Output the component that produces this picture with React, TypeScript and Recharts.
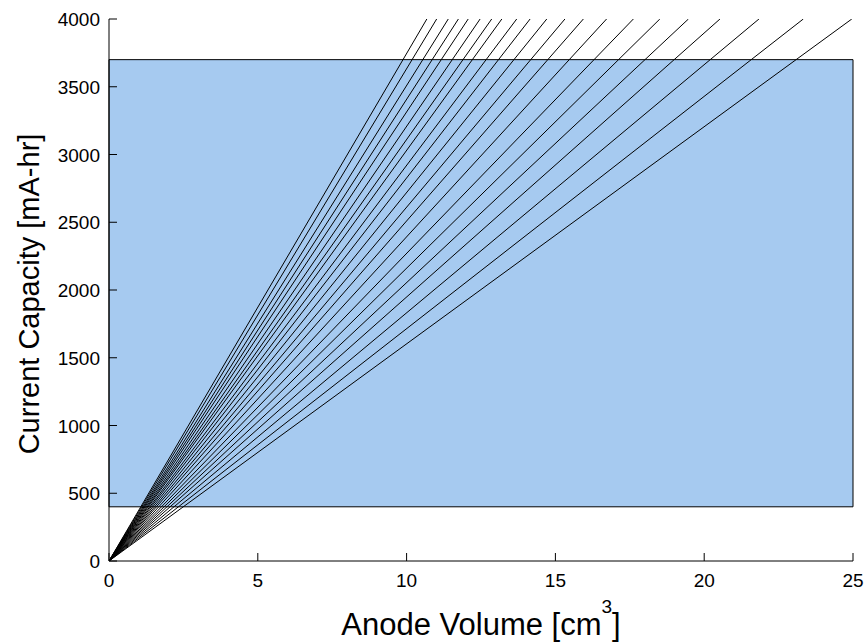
import React from 'react';
import { LineChart, Line, XAxis, YAxis, ReferenceArea } from 'recharts';

// Anode volume (cm^3) at which each capacity line reaches 4000 mA-hr
const lineEndVolumes = [10.68, 11.01, 11.4, 11.74, 12.07, 12.47, 12.86, 13.2, 13.7, 14.15, 14.71, 15.32, 15.94, 16.72, 17.62, 18.51, 19.47, 20.53, 21.84, 23.33, 24.96];
const capacityTop = 4000;
const xTicks = [0, 5, 10, 15, 20, 25];
const yTicks = [0, 500, 1000, 1500, 2000, 2500, 3000, 3500, 4000];
const bandX = [0, 25];
const bandY = [400, 3700];

const FONT = '"Liberation Sans", Arial, sans-serif';
const TICK_FONT = 19;
const TICK_LEN = 8;

const XTick = (props: any) => {
  const { x, y, payload } = props;
  return (
    <g>
      <line x1={x} x2={x} y1={y} y2={y - TICK_LEN} stroke="#000" strokeWidth={1} />
      <text x={x} y={y + 26} textAnchor="middle" fontFamily={FONT} fontSize={TICK_FONT} fill="#000">
        {payload.value}
      </text>
    </g>
  );
};

const YTick = (props: any) => {
  const { x, y, payload } = props;
  return (
    <g>
      <line x1={x} x2={x + TICK_LEN} y1={y} y2={y} stroke="#000" strokeWidth={1} />
      <text x={x - 9} y={y + 7} textAnchor="end" fontFamily={FONT} fontSize={TICK_FONT} fill="#000">
        {payload.value}
      </text>
    </g>
  );
};

const renderXLabel = (props: any) => {
  const vb = props.viewBox || {};
  const cx = vb.x + vb.width / 2;
  const y = vb.y + 74;
  return (
    <text x={cx} y={y} textAnchor="middle" fontFamily={FONT} fontSize={31} fill="#000">
      <tspan>Anode Volume [cm</tspan>
      <tspan dy={-22} fontSize={19}>3</tspan>
      <tspan dy={22}>]</tspan>
    </text>
  );
};

const renderYLabel = () => {
  const cy = 294;
  const x = 29;
  return (
    <text x={x} y={cy} transform={`rotate(-90, ${x}, ${cy})`} textAnchor="middle" dominantBaseline="central" fontFamily={FONT} fontSize={29} fill="#000">
      Current Capacity [mA-hr]
    </text>
  );
};

export default function App() {
  return (
    <div style={{ position: 'absolute', left: 0, top: 0, width: 867, height: 642 }}>
      <LineChart width={867} height={642} margin={{ top: 19, right: 14, bottom: 0, left: 0 }}>
        <XAxis
          type="number"
          dataKey="v"
          domain={[0, 25]}
          ticks={xTicks}
          height={81}
          axisLine={{ stroke: '#000' }}
          tickLine={false}
          tickSize={0}
          tickMargin={0}
          tick={<XTick />}
          label={{ content: renderXLabel }}
          allowDataOverflow
        />
        <YAxis
          type="number"
          dataKey="c"
          domain={[0, 4000]}
          ticks={yTicks}
          width={109}
          axisLine={{ stroke: '#000' }}
          tickLine={false}
          tickSize={0}
          tickMargin={0}
          tick={<YTick />}
          label={{ content: renderYLabel }}
          allowDataOverflow
        />
        <ReferenceArea
          x1={bandX[0]}
          x2={bandX[1]}
          y1={bandY[0]}
          y2={bandY[1]}
          fill="#a6caf0"
          fillOpacity={1}
          stroke="#000"
          strokeWidth={1}
          ifOverflow="visible"
        />
        {lineEndVolumes.map((xe, i) => (
          <Line
            key={i}
            data={[{ v: 0, c: 0 }, { v: xe, c: capacityTop }]}
            dataKey="c"
            stroke="#000"
            strokeWidth={1}
            dot={false}
            isAnimationActive={false}
            type="linear"
          />
        ))}
      </LineChart>
    </div>
  );
}
